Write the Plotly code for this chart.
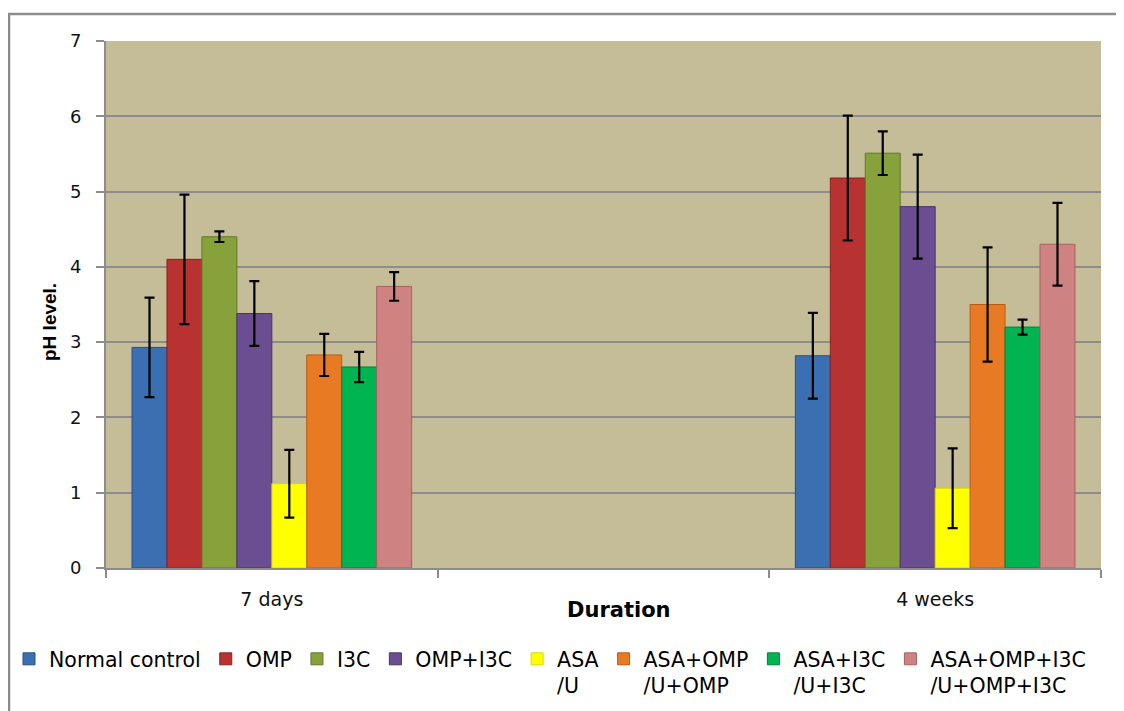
import plotly.graph_objects as go

# ---- data ----
durations = ["7 days", "", "4 weeks"]   # middle slot is empty in the reference
dur_pos = [0, 1, 2]
groups = ["Normal control", "OMP", "I3C", "OMP+I3C", "ASA<br>/U",
          "ASA+OMP<br>/U+OMP", "ASA+I3C<br>/U+I3C", "ASA+OMP+I3C<br>/U+OMP+I3C"]
values = [
    [2.93, None, 2.82],
    [4.10, None, 5.18],
    [4.40, None, 5.51],
    [3.38, None, 4.80],
    [1.12, None, 1.06],
    [2.83, None, 3.50],
    [2.67, None, 3.20],
    [3.74, None, 4.30],
]
errors = [
    [0.66, None, 0.57],
    [0.86, None, 0.83],
    [0.07, None, 0.29],
    [0.43, None, 0.69],
    [0.45, None, 0.53],
    [0.28, None, 0.76],
    [0.20, None, 0.10],
    [0.19, None, 0.55],
]
colors = ["#3a6fb1", "#b93232", "#87a23b", "#6b4e92", "#ffff00",
          "#e97a24", "#00b451", "#cf8282"]
edges = ["#24508a", "#8a2020", "#62782a", "#4a3468", "#d8d800",
         "#b85c14", "#00833a", "#a86060"]

fig = go.Figure()
for g, v, e, c, ec in zip(groups, values, errors, colors, edges):
    fig.add_trace(go.Bar(
        name=g, x=dur_pos, y=v,
        marker=dict(color=c, line=dict(color=ec, width=1)),
        error_y=dict(type="data", array=e, visible=True,
                     color="black", thickness=2.2, width=5),
    ))

# page body has an 8px margin, so the figure is slightly smaller than the window
W, H = 1116, 703
L, T = 98, 33
pw, ph = 995, 527
R = W - L - pw
B = H - T - ph

def px_x(p):
    return (p - L) / pw

def px_y(p):
    return (H - B - p) / ph

fig.update_layout(
    width=W, height=H,
    margin=dict(l=L, r=R, t=T, b=B, autoexpand=False),
    paper_bgcolor="white",
    plot_bgcolor="#c4bd97",
    barmode="group",
    bargap=0.157,
    bargroupgap=0,
    showlegend=True,
    legend=dict(
        orientation="h", x=px_x(1), y=px_y(631), xanchor="left", yanchor="top",
        font=dict(family="DejaVu Sans, sans-serif", size=20.5, color="black"),
        bgcolor="rgba(0,0,0,0)",
        itemwidth=30, tracegroupgap=0, valign="top",
        traceorder="normal",
    ),
    xaxis=dict(
        range=[-0.5, 2.5],
        tickvals=dur_pos, ticktext=durations,
        ticks="", showgrid=False, zeroline=False,
        showline=True, linecolor="#8c8c8c", linewidth=2,
        tickfont=dict(family="DejaVu Sans, sans-serif", size=19, color="#111111"),
        ticklabelstandoff=13,
        minor=dict(tickvals=[-0.5, 0.5, 1.5, 2.5], ticks="outside", ticklen=8,
                   tickcolor="#8c8c8c", tickwidth=2, showgrid=False),
    ),
    yaxis=dict(
        range=[0, 7], dtick=1,
        ticks="outside", ticklen=8, tickcolor="#8c8c8c", tickwidth=2,
        showgrid=True, gridcolor="#8c8c8c", gridwidth=2,
        zeroline=False,
        showline=True, linecolor="#8c8c8c", linewidth=2,
        tickfont=dict(family="DejaVu Sans, sans-serif", size=18, color="#111111"),
        ticklabelstandoff=11,
    ),
    annotations=[
        dict(text="<b>Duration</b>", xref="paper", yref="paper",
             x=px_x(611), y=px_y(602), xanchor="center", yanchor="middle",
             showarrow=False,
             font=dict(family="DejaVu Sans, sans-serif", size=21, color="black")),
        dict(text="<b>pH level.</b>", xref="paper", yref="paper",
             x=px_x(41), y=px_y(314), xanchor="center", yanchor="middle",
             textangle=-90, showarrow=False,
             font=dict(family="Liberation Sans, Arial, sans-serif", size=19, color="black")),
    ],
    shapes=[dict(type="rect", xref="paper", yref="paper",
                 x0=px_x(1), x1=px_x(1113), y0=px_y(720), y1=px_y(6),
                 line=dict(color="#8c8c8c", width=2.5), fillcolor="rgba(0,0,0,0)",
                 layer="below")],
)

fig.write_html("out.html")
